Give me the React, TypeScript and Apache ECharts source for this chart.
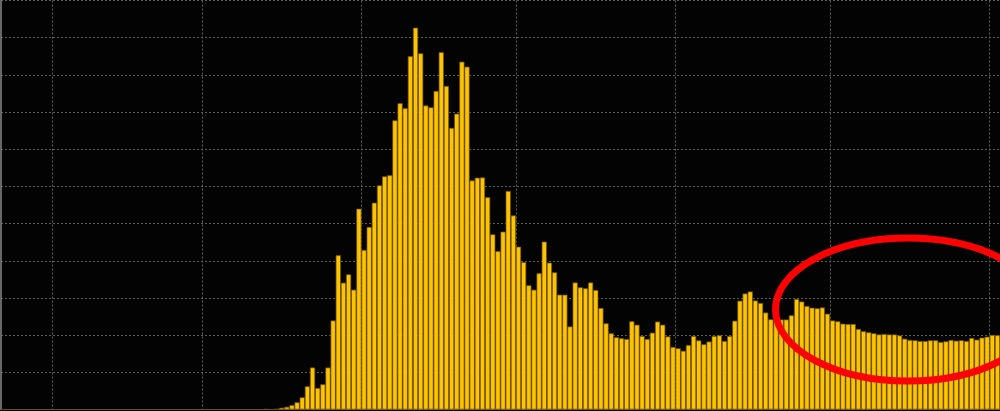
import React, { useEffect, useRef } from "react";
import * as echarts from "echarts";

// Daily new cases (one bar per day)
const startDate = "2020-01-22";
const dayCount = 194;

const dailyCases: number[] = [
  // indices 0-49
  0, 0, 0, 0, 0, 0, 0, 0, 0, 0,
  0, 0, 0, 0, 0, 0, 0, 0, 0, 0,
  0, 0, 0, 0, 0, 0, 0, 0, 0, 0,
  0, 0, 0, 0, 0, 0, 0, 0, 0, 0,
  0, 0, 0, 0, 0, 0, 0, 0, 0, 0,
  // 50-59
  0, 5, 1, 6, 24, 36, 60, 97, 164, 312,
  // 60-69
  565, 289, 339, 565, 1197, 2074, 1705, 1818, 1611, 2700,
  // 70-79
  2145, 2454, 2781, 3015, 3136, 3150, 3889, 4118, 4051, 4750,
  // 80-89
  5134, 4790, 4088, 4064, 4283, 4804, 4350, 3786, 3978, 4677,
  // 90-99
  4610, 3080, 3117, 3120, 2854, 2356, 2129, 2391, 2938, 2609,
  // 100-109
  2189, 1981, 1670, 1611, 1832, 2257, 1974, 1845, 1544, 1544,
  // 110-119
  1116, 1708, 1643, 1630, 1708, 1607, 1365, 1159, 1025, 972,
  // 120-129
  958, 948, 1187, 1140, 988, 948, 1033, 1183, 1140, 982,
  // 130-139
  841, 823, 789, 867, 988, 930, 877, 914, 988, 998,
  // 140-149
  921, 988, 1194, 1463, 1560, 1587, 1466, 1432, 1304, 1213,
  // 150-159
  1204, 1210, 1210, 1267, 1486, 1452, 1392, 1369, 1361, 1372,
  // 160-169
  1288, 1197, 1186, 1154, 1150, 1150, 1083, 1052, 1038, 1025,
  // 170-179
  1009, 1015, 1009, 1009, 995, 952, 935, 931, 921, 921,
  // 180-189
  931, 931, 908, 917, 935, 925, 931, 921, 962, 939,
  // 190-193
  966, 979, 1002, 998,
];

const yMin = 0;
const yMax = 5500;
const yInterval = 500;

function buildDates(start: string, n: number): string[] {
  const out: string[] = [];
  const d0 = new Date(start + "T00:00:00Z").getTime();
  for (let i = 0; i < n; i++) {
    out.push(new Date(d0 + i * 86400000).toISOString().slice(0, 10));
  }
  return out;
}

const dates = buildDates(startDate, dayCount);

export default function App() {
  const ref = useRef<HTMLDivElement>(null);

  useEffect(() => {
    if (!ref.current) return;
    const chart = echarts.init(ref.current, null, { renderer: "svg" });
    chart.setOption({
      animation: false,
      backgroundColor: "#030303",
      grid: { left: 1, right: 0, top: 0.5, bottom: 1.5, containLabel: false },
      xAxis: {
        type: "category",
        data: dates,
        boundaryGap: true,
        axisLabel: { show: false },
        axisTick: { show: false },
        axisLine: { show: true, lineStyle: { color: "#6b5a2a", width: 1 } },
        splitLine: {
          show: true,
          interval: (_i: number, v: string) => v.endsWith("-01"),
          lineStyle: { color: "#5c5c5c", type: [2, 2], width: 1 },
        },
      },
      yAxis: {
        type: "value",
        min: yMin,
        max: yMax,
        interval: yInterval,
        axisLabel: { show: false },
        axisTick: { show: false },
        axisLine: { show: true, lineStyle: { color: "#8a8a8a", width: 1.5 } },
        splitLine: {
          show: true,
          lineStyle: { color: "#5c5c5c", type: [2, 2], width: 1 },
        },
      },
      series: [
        {
          type: "bar",
          data: dailyCases,
          barCategoryGap: "0%",
          itemStyle: {
            color: "#FFC300",
            borderColor: "#6a5200",
            borderWidth: 0.7,
          },
        },
      ],
      graphic: [
        {
          type: "ellipse",
          z: 100,
          shape: { cx: 908, cy: 309.5, rx: 132.5, ry: 71.5 },
          style: { fill: "transparent", stroke: "#ff0000", lineWidth: 7 },
        },
      ],
    });
    return () => chart.dispose();
  }, []);

  return (
    <div
      ref={ref}
      style={{ position: "fixed", left: 0, top: 0, width: 1000, height: 411 }}
    />
  );
}
